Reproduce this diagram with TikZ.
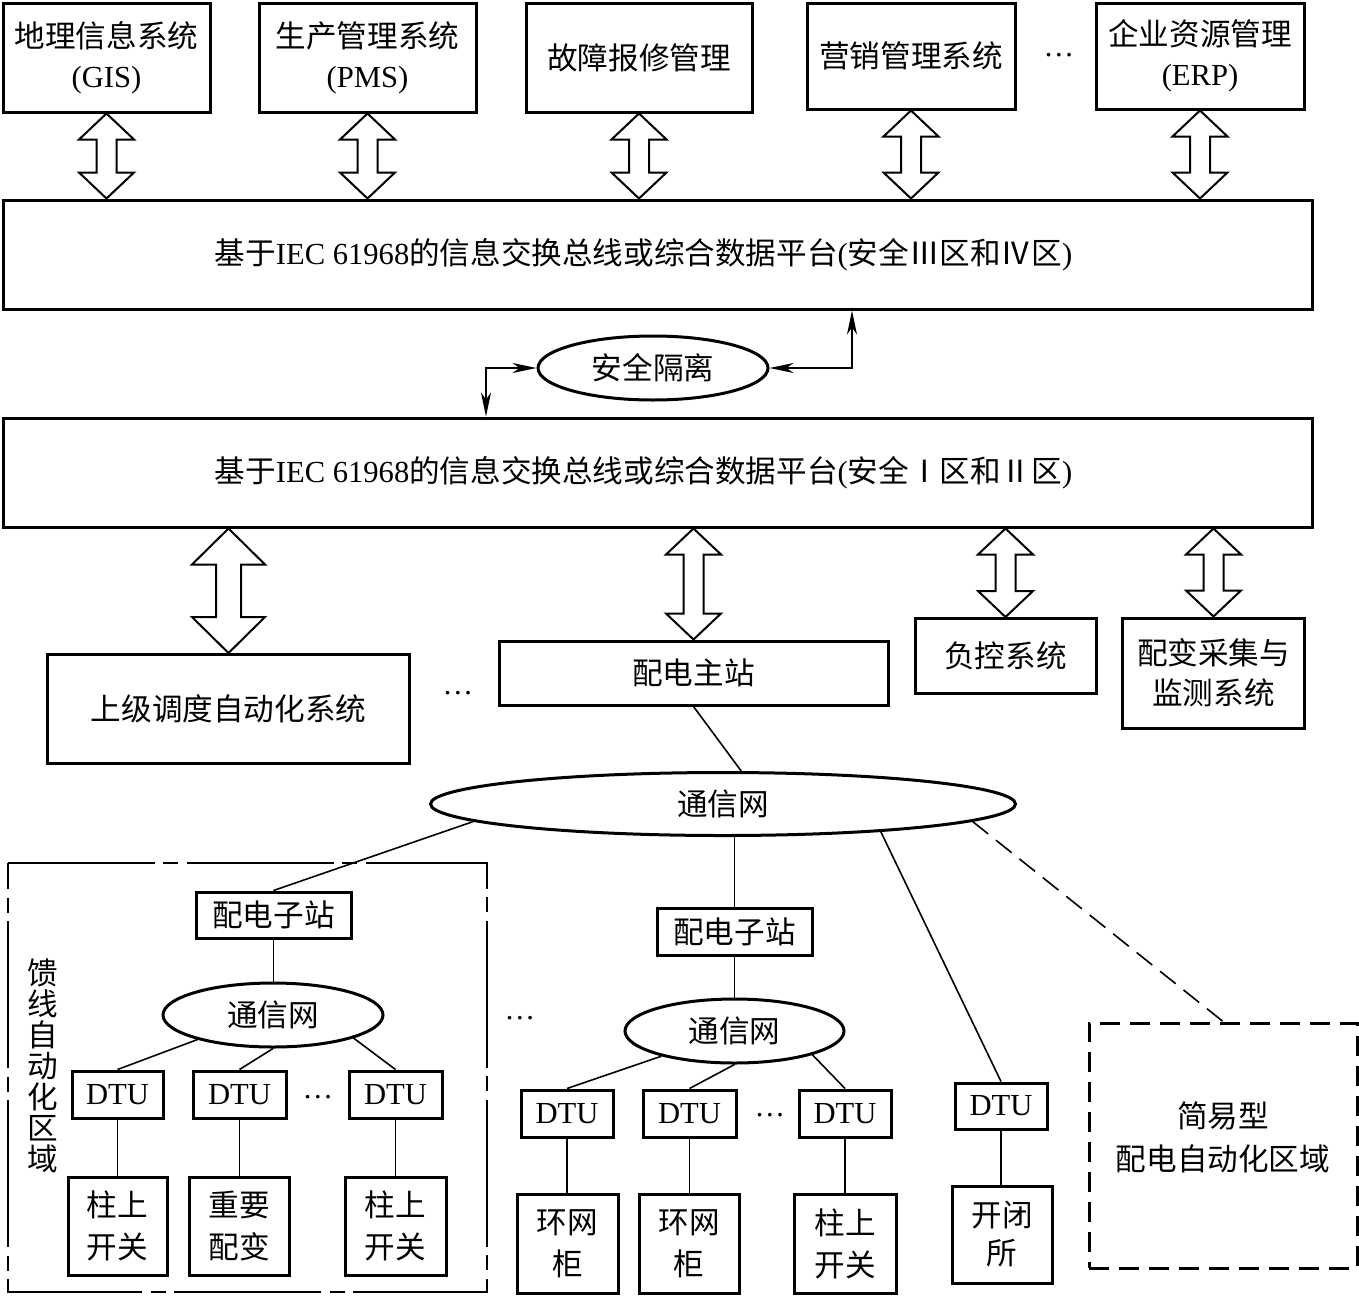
\documentclass[tikz,border=0pt]{standalone}
\usepackage{fontspec}
\setmainfont{Liberation Serif}
\newfontfamily\cjk{Noto Sans CJK SC}
\usetikzlibrary{shapes.geometric,arrows.meta,calc}
\newcommand\en[1]{{\rmfamily #1}}
% block double arrow: #1 top point, #2 bottom reference (y only), #3 half head width, #4 half shaft width, #5 head length
\newcommand\dblarr[5]{\draw[blk] let \p1=(#1), \p2=(#2) in
  (\x1,\y1) -- (\x1+#3,\y1-#5) -- (\x1+#4,\y1-#5) -- (\x1+#4,\y2+#5) -- (\x1+#3,\y2+#5)
  -- (\x1,\y2) -- (\x1-#3,\y2+#5) -- (\x1-#4,\y2+#5) -- (\x1-#4,\y1-#5) -- (\x1-#3,\y1-#5) -- cycle;}
\begin{document}
\begin{tikzpicture}[x=0.5pt,y=-0.5pt,
  every node/.style={font=\cjk\fontsize{15.3}{20}\selectfont, inner sep=0pt, align=center},
  sz/.style 2 args={minimum width=#1*0.5pt, minimum height=#2*0.5pt},
  box/.style={draw, line width=1.5pt, rectangle},
  oval/.style={draw, line width=1.5pt, ellipse},
  two/.style={font=\cjk\fontsize{15.3}{21}\selectfont},
  conn/.style={line width=0.8pt},
  dconn/.style={line width=0.8pt, dash pattern=on 10pt off 5pt},
  blk/.style={draw, line width=1pt, fill=white, line join=miter},
  isoarrow/.style={line width=0.8pt, {Stealth[length=12pt,width=5pt,inset=3.5pt]}-{Stealth[length=12pt,width=5pt,inset=3.5pt]}},
  region/.style={line width=1pt, dash pattern=on 73.5pt off 4pt on 7.5pt off 4.5pt},
  simplebox/.style={draw, line width=1.5pt, dash pattern=on 10pt off 5pt},
]
\path[use as bounding box, fill=white] (0,0) rectangle (1359,1296);

% top row
\node[box, sz={207}{109}] (gis) at (106.5,57.5) {地理信息系统\\\en{(GIS)}};
\node[box, sz={217}{109}] (pms) at (367.5,57.5) {生产管理系统\\\en{(PMS)}};
\node[box, sz={226}{109}] (fault) at (639,57.5) {故障报修管理};
\node[box, sz={208}{106}] (mkt) at (911,56) {营销管理系统};
\node (dots1) at (1059,55) {\en{…}};
\node[box, sz={208}{106}] (erp) at (1200,56) {企业资源管理\\\en{(ERP)}};

% buses
\node[box, sz={1309}{109}] (bus1) at (657.5,254.5) {基于\en{IEC 61968}的信息交换总线或综合数据平台\en{(}安全Ⅲ区和Ⅳ区\en{)}\kern14pt};
\node[oval, sz={230}{64}] (iso) at (653,368) {安全隔离};
\node[box, sz={1309}{109}] (bus2) at (657.5,472.5) {基于\en{IEC 61968}的信息交换总线或综合数据平台\en{(}安全Ⅰ区和Ⅱ区\en{)}\kern14pt};

\coordinate (isoR) at (852,0);
\coordinate (isoL) at (486,0);
\draw[isoarrow] (iso.east) -| (bus1.south -| isoR);
\draw[isoarrow] (iso.west) -| (bus2.north -| isoL);

% third row
\node[box, sz={362}{109}] (dispatch) at (228.5,709) {上级调度自动化系统};
\node (dots2) at (458,693) {\en{…}};
\node[box, sz={389}{64}] (master) at (693.5,673) {配电主站};
\node[box, sz={181}{75}] (load) at (1005.5,656) {负控系统};
\node[box, sz={182}{110}] (dtmon) at (1213.5,673) {配变采集与\\监测系统};

% block arrows
\dblarr{gis.south}{bus1.north}{13.75pt}{5pt}{13pt}
\dblarr{pms.south}{bus1.north}{13.75pt}{5pt}{13pt}
\dblarr{fault.south}{bus1.north}{13.75pt}{5pt}{13pt}
\dblarr{mkt.south}{bus1.north}{13.75pt}{5pt}{13pt}
\dblarr{erp.south}{bus1.north}{13.75pt}{5pt}{13pt}
\dblarr{bus2.south -| dispatch.north}{dispatch.north}{18.25pt}{6.25pt}{18pt}
\dblarr{bus2.south -| master.north}{master.north}{13.75pt}{5pt}{13pt}
\dblarr{bus2.south -| load.north}{load.north}{13.75pt}{5pt}{13pt}
\dblarr{bus2.south -| dtmon.north}{dtmon.north}{13.75pt}{5pt}{13pt}

% main communication network
\node[oval, sz={585}{63}] (comm) at (723,804) {通信网};
\draw[conn] (master.south) -- (comm.61);

% feeder automation region
\draw[region] (8,863) -- (487,863) -- (487,1292) -- (8,1292) -- cycle;
\node[font=\cjk\fontsize{15.3}{15.5}\selectfont] (feedlbl) at (42.5,1066) {馈\\线\\自\\动\\化\\区\\域};
\node[box, sz={155}{46}] (sub1) at (273.5,915) {配电子站};
\node[oval, sz={220}{64}] (comm1) at (273,1015) {通信网};
\node[box, sz={91}{47}] (dtu11) at (117.5,1094.5) {\en{DTU}};
\node[box, sz={93}{47}] (dtu12) at (239.5,1094.5) {\en{DTU}};
\node (dots3) at (318,1097) {\en{…}};
\node[box, sz={93}{47}] (dtu13) at (395.5,1094.5) {\en{DTU}};
\node[box, two, sz={99}{98}] (sw11) at (117.5,1226) {柱上\\开关};
\node[box, two, sz={100}{98}] (tr12) at (239,1226) {重要\\配变};
\node[box, two, sz={101}{98}] (sw13) at (395.5,1226) {柱上\\开关};

\draw[conn] (comm.184) -- (sub1.north);
\draw[conn] (sub1.south) -- (sub1.south |- comm1.north);
\draw[conn] (comm1.198) -- (dtu11.north);
\draw[conn] (comm1.south) -- (dtu12.north);
\draw[conn] (comm1.344.6) -- (dtu13.north);
\draw[conn] (dtu11.south) -- (dtu11.south |- sw11.north);
\draw[conn] (dtu12.south) -- (dtu12.south |- tr12.north);
\draw[conn] (dtu13.south) -- (dtu13.south |- sw13.north);

% middle branch
\node (dots4) at (520,1018) {\en{…}};
\node[box, sz={155}{47}] (sub2) at (734.5,931.5) {配电子站};
\node[oval, sz={219}{64}] (comm2) at (734.5,1031) {通信网};
\node[box, sz={92}{47}] (dtu21) at (567,1113.5) {\en{DTU}};
\node[box, sz={93}{47}] (dtu22) at (689.5,1113.5) {\en{DTU}};
\node (dots5) at (770,1115) {\en{…}};
\node[box, sz={92}{47}] (dtu23) at (845,1113.5) {\en{DTU}};
\node[box, two, sz={101}{99}] (ring21) at (567.5,1243.5) {环网\\柜};
\node[box, two, sz={100}{99}] (ring22) at (689,1243.5) {环网\\柜};
\node[box, two, sz={102}{99}] (sw23) at (845,1243.5) {柱上\\开关};

\draw[conn] (comm.south -| sub2.north) -- (sub2.north);
\draw[conn] (sub2.south) -- (sub2.south |- comm2.north);
\draw[conn] (comm2.199.6) -- (dtu21.north);
\draw[conn] (comm2.south) -- (dtu22.north);
\draw[conn] (comm2.343.3) -- (dtu23.north);
\draw[conn] (dtu21.south) -- (dtu21.south |- ring21.north);
\draw[conn] (dtu22.south) -- (dtu22.south |- ring22.north);
\draw[conn] (dtu23.south) -- (dtu23.south |- sw23.north);

% right branch
\node[box, sz={92}{46}] (dtu3) at (1001,1106) {\en{DTU}};
\node[box, font=\cjk\fontsize{15.3}{19}\selectfont, sz={100}{97}] (kbs) at (1002,1234.5) {开闭\\所};
\draw[conn] (comm.-10) -- (dtu3.north);
\draw[conn] (dtu3.south) -- (dtu3.south |- kbs.north);

\node[simplebox, font=\cjk\fontsize{15.3}{21.5}\selectfont, text depth=9pt, sz={268}{245}] (simple) at (1223,1145.5) {简易型\\配电自动化区域};
\draw[dconn] (comm.-4.2) -- (simple.north);
\end{tikzpicture}
\end{document}
